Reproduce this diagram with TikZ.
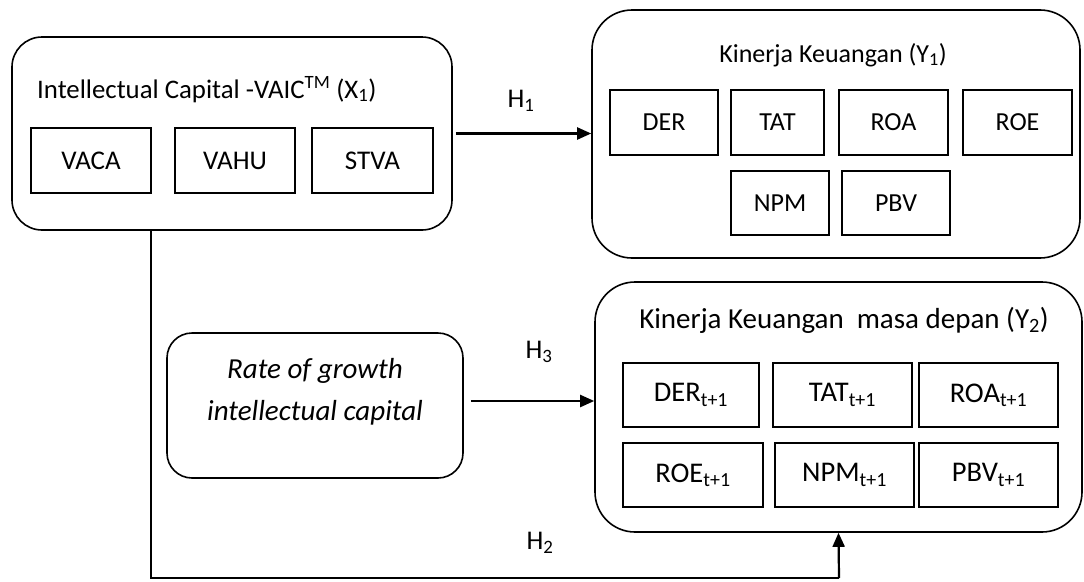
\documentclass[tikz,border=0pt]{standalone}
\usepackage{fontspec}
\setmainfont{Carlito}
\usetikzlibrary{arrows.meta}
\begin{document}
\begin{tikzpicture}[x=1pt,y=-1pt,
  every node/.style={font=\fontsize{26}{30}\selectfont},
  bigfont/.style={font=\fontsize{28.5}{32}\selectfont},
  bigbox/.style={draw,line width=1.6pt,rounded corners=#1,inner sep=0pt},
  cell/.style={draw,line width=1.4pt,inner sep=0pt,anchor=center},
  lbl/.style={inner sep=0pt},
  conn/.style={line width=2.2pt},
  arr/.style={line width=2.2pt,-{Triangle[length=14pt,width=12pt]}}]
\useasboundingbox (0,0) rectangle (1084,581);
% X1
\node[bigbox=30pt,minimum width=440pt,minimum height=193pt] (x1) at (232,133.5) {};
\node[lbl,anchor=base west,font=\fontsize{26.8}{30}\selectfont] (x1t) at (37,98) {Intellectual Capital -VAIC\textsuperscript{TM} (X\textsubscript{1})};
\node[cell,minimum width=120pt,minimum height=65pt,font=\fontsize{27}{30}\selectfont] (vaca) at (91,160.5) {VACA};
\node[cell,minimum width=120pt,minimum height=65pt,font=\fontsize{27}{30}\selectfont] (vahu) at (235,160.5) {VAHU};
\node[cell,minimum width=121pt,minimum height=65pt,font=\fontsize{27}{30}\selectfont] (stva) at (372.5,160.5) {STVA};
% Y1
\node[bigbox=40pt,minimum width=488pt,minimum height=248pt] (y1) at (836,134) {};
\node[lbl,anchor=base] (y1t) at (833,62) {Kinerja Keuangan (Y\textsubscript{1})};
\node[cell,minimum width=108pt,minimum height=65pt] (der) at (664,122.5) {DER};
\node[cell,minimum width=93pt,minimum height=65pt] (tat) at (777.5,122.5) {TAT};
\node[cell,minimum width=109pt,minimum height=65pt] (roa) at (893.5,122.5) {ROA};
\node[cell,minimum width=109pt,minimum height=65pt] (roe) at (1017.5,122.5) {ROE};
\node[cell,minimum width=98pt,minimum height=64pt] (npm) at (780,203) {NPM};
\node[cell,minimum width=108pt,minimum height=64pt] (pbv) at (896,203) {PBV};
% Y2
\node[bigbox=40pt,minimum width=487pt,minimum height=250pt] (y2) at (838.5,407) {};
\node[lbl,anchor=base,font=\fontsize{29}{32}\selectfont] (y2t) at (844,328) {Kinerja Keuangan\ \ masa depan (Y\textsubscript{2})};
\node[cell,minimum width=136pt,minimum height=64pt,bigfont] (der2) at (691,395) {DER\textsubscript{t+1}};
\node[cell,minimum width=139pt,minimum height=64pt,bigfont] (tat2) at (842.5,395) {TAT\textsubscript{t+1}};
\node[cell,minimum width=139pt,minimum height=64pt,bigfont] (roa2) at (988.5,395) {ROA\textsubscript{t+1}};
\node[cell,minimum width=140pt,minimum height=64pt,bigfont] (roe2) at (693,475) {ROE\textsubscript{t+1}};
\node[cell,minimum width=139pt,minimum height=64pt,bigfont] (npm2) at (844.5,475) {NPM\textsubscript{t+1}};
\node[cell,minimum width=139pt,minimum height=64pt,bigfont] (pbv2) at (988.5,475) {PBV\textsubscript{t+1}};
% Rate
\node[bigbox=25pt,minimum width=296pt,minimum height=145pt] (rate) at (315,405.5) {};
\node[lbl,align=center,font=\fontsize{29}{42}\selectfont\itshape] (ratet) at (315,392) {Rate of growth\\intellectual capital};
% labels
\node[lbl,font=\fontsize{27}{30}\selectfont] (h1) at (521,101) {H\textsubscript{1}};
\node[lbl,font=\fontsize{27}{30}\selectfont] (h3) at (539,352) {H\textsubscript{3}};
\node[lbl,font=\fontsize{27}{30}\selectfont] (h2) at (540,543) {H\textsubscript{2}};
% connectors
\draw[arr] ([xshift=3pt]x1.east) -- (x1.east -| y1.west);
\draw[arr] ([xshift=7pt,yshift=4.5pt]rate.east) -- ([yshift=4.5pt]rate.east -| y2.west);
\coordinate (bstart) at ([xshift=-81pt]x1.south);
\coordinate (bcorner) at (839,578);
\draw[conn] (bstart) |- (bcorner);
\draw[arr] (bcorner) -- (y2.south);
\end{tikzpicture}
\end{document}
